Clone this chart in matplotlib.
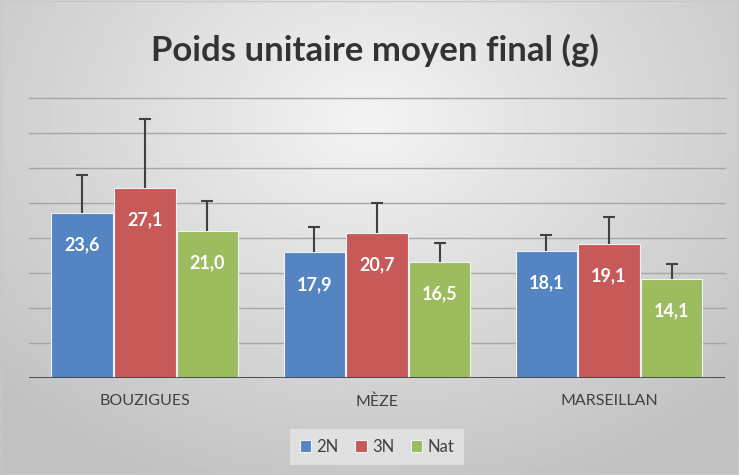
import numpy as np
import matplotlib.pyplot as plt

# data
sites = ['BOUZIGUES', 'MÈZE', 'MARSEILLAN']
series = ['2N', '3N', 'Nat']
v_2n = [23.6, 17.9, 18.1]
v_3n = [27.1, 20.7, 19.1]
v_nat = [21.0, 16.5, 14.1]
e_2n = [5.4, 3.6, 2.3]
e_3n = [9.9, 4.2, 3.8]
e_nat = [4.2, 2.7, 2.2]
colors = ['#5485c2', '#c75a58', '#9dbb5f']

plt.rcParams['font.family'] = ['Lato', 'DejaVu Sans']

fig = plt.figure(figsize=(7.39, 4.75), dpi=100)

# gradient background
bg = fig.add_axes([0, 0, 1, 1], zorder=-10)
yy, xx = np.mgrid[0:1:300j, 0:1:400j]
r = np.sqrt(((xx - 0.5) / 0.7) ** 2 + ((yy - 0.25) / 0.85) ** 2)
shade = 0.955 - 0.2 * np.clip(r, 0, 1)
bg.imshow(shade, cmap='gray', vmin=0, vmax=1, extent=[0, 1, 0, 1], aspect='auto')
bg.add_patch(plt.Rectangle((0.001, 0.002), 0.997, 0.995, fill=False, ec='#c8c8c8', lw=1))
bg.set_xlim(0, 1)
bg.set_ylim(0, 1)
bg.axis('off')

ax = fig.add_axes([0.039, 0.205, 0.942, 0.589])
ax.patch.set_alpha(0)

x = np.arange(len(sites))
w = 0.27
vals = [v_2n, v_3n, v_nat]
errs = [e_2n, e_3n, e_nat]

for yv in range(5, 45, 5):
    ax.axhline(yv, color='#a6a6a6', lw=1, zorder=0, clip_on=False)

for i, (name, v, e, c) in enumerate(zip(series, vals, errs, colors)):
    pos = x + (i - 1) * w
    bars = ax.bar(pos, v, w * 0.98, color=c, edgecolor='#eef3fa', linewidth=0.8,
                  label=name, zorder=2)
    eb = ax.errorbar(pos, v, yerr=[np.zeros(len(e)), e], fmt='none', ecolor='#404040',
                     elinewidth=1.5, capsize=4, capthick=1.5, zorder=3)
    eb[1][0].set_visible(False)  # hide lower caps
    for b, val in zip(bars, v):
        ax.annotate(f'{val:.1f}'.replace('.', ','), (b.get_x() + b.get_width() / 2, val),
                    xytext=(0, -23), textcoords='offset points', ha='center', va='center',
                    color='white', fontsize=13, fontweight='bold', zorder=4)

ax.axhline(0, color='#404040', lw=2, zorder=5)
ax.set_xlim(-0.5, 2.5)
ax.set_ylim(0, 40)
ax.set_yticks([])
ax.set_xticks(x)
ax.set_xticklabels(sites, fontsize=11.5, color='#404040')
ax.tick_params(axis='x', length=0, pad=12)
for s in ax.spines.values():
    s.set_visible(False)

fig.text(0.508, 0.893, 'Poids unitaire moyen final (g)', ha='center', va='center',
         fontsize=25, fontweight='bold', color='#333333')

leg = fig.legend(loc='center', bbox_to_anchor=(0.51, 0.06), ncol=3, frameon=True,
                 fontsize=12, handlelength=0.7, handleheight=0.7, handletextpad=0.3,
                 columnspacing=1.0, borderpad=0.3)
leg.get_frame().set_facecolor('#e6e6e6')
leg.get_frame().set_edgecolor('none')
leg.get_frame().set_boxstyle('square')
for t in leg.get_texts():
    t.set_color('#404040')

fig.savefig('out.png', dpi=100)
